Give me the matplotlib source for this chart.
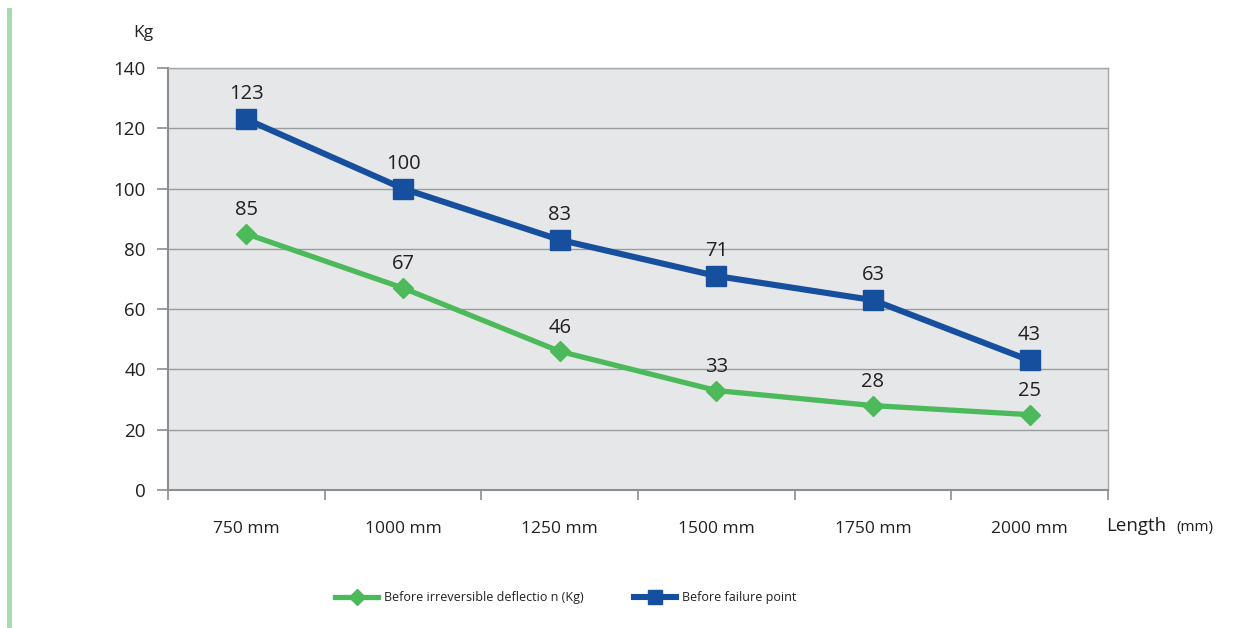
import matplotlib
matplotlib.use("Agg")
import matplotlib.pyplot as plt
from matplotlib.lines import Line2D

categories = ["750 mm", "1000 mm", "1250 mm", "1500 mm", "1750 mm", "2000 mm"]
deflection = [85, 67, 46, 33, 28, 25]
failure = [123, 100, 83, 71, 63, 43]
yticks = [0, 20, 40, 60, 80, 100, 120, 140]

plt.rcParams['font.family'] = ['Open Sans', 'DejaVu Sans']

GREEN = "#4cb95a"
BLUE = "#164f9e"
TXT = "#231f20"

fig = plt.figure(figsize=(12.42, 6.28), dpi=100)
ax = fig.add_axes([168/1242, 1-490/628, (1108-168)/1242, (490-68)/628])
ax.set_facecolor("#e6e7e9")

x = list(range(len(categories)))
ax.plot(x, deflection, color=GREEN, lw=3.8, marker="D", ms=10, zorder=3)
ax.plot(x, failure, color=BLUE, lw=4.4, marker="s", ms=15, zorder=4)

for xi, v in zip(x, deflection):
    ax.annotate(str(v), (xi, v), xytext=(0, 17), textcoords="offset points",
                ha="center", va="center", fontsize=14.5, color=TXT)
for xi, v in zip(x, failure):
    ax.annotate(str(v), (xi, v), xytext=(0, 18), textcoords="offset points",
                ha="center", va="center", fontsize=14.5, color=TXT)

ax.set_xlim(-0.5, len(categories) - 0.5)
ax.set_ylim(0, 140)
ax.set_yticks(yticks)
ax.set_yticklabels([str(t) for t in yticks], fontsize=13.5, color=TXT)
ax.yaxis.grid(True, color="#9a9b9d", lw=1.0)
ax.set_axisbelow(True)

ax.set_xticks(x)
ax.set_xticklabels(categories, fontsize=12.5, color=TXT)
ax.tick_params(axis="x", which="major", length=0, pad=22)
ax.set_xticks([i - 0.5 for i in range(len(categories) + 1)], minor=True)
ax.tick_params(axis="x", which="minor", length=7, color="#8c8d8f", width=1.2)
ax.tick_params(axis="y", length=8, color="#8c8d8f", width=1.2, pad=8)

for side in ["left", "bottom"]:
    ax.spines[side].set_color("#8c8d8f")
    ax.spines[side].set_linewidth(1.5)
for side in ["top", "right"]:
    ax.spines[side].set_color("#a6a7a9")
    ax.spines[side].set_linewidth(1.0)

fig.text(153/1242, 1-33/628, "Kg", ha="right", va="center", fontsize=12.5, color=TXT)
fig.text(1106/1242, 1-526/628, "Length", ha="left", va="center", fontsize=13.5, color=TXT)
fig.text(1176/1242, 1-527/628, "(mm)", ha="left", va="center", fontsize=11, color=TXT)

handles = [Line2D([], [], color=GREEN, lw=3.8, marker="D", ms=8),
           Line2D([], [], color=BLUE, lw=4.4, marker="s", ms=10)]
labels = ["Before irreversible deflectio n (Kg)", "Before failure point"]
fig.legend(handles, labels, loc="center", bbox_to_anchor=(566/1242, 1-598/628),
           ncol=2, frameon=False, fontsize=9, handlelength=3.4, columnspacing=4.0,
           handletextpad=0.5, labelcolor=TXT)

fig.add_artist(plt.Rectangle((7/1242, 0), 5/1242, 1-8/628, transform=fig.transFigure,
                             color="#a8dcb0", lw=0))

fig.savefig("out.png", dpi=100)
